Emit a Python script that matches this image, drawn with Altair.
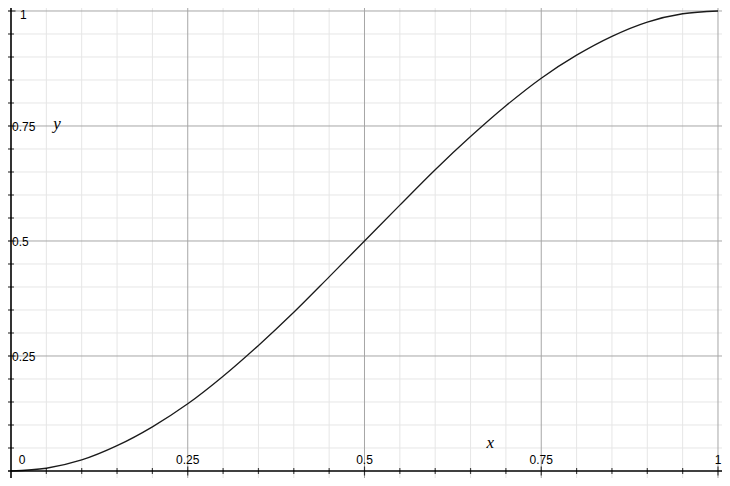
import altair as alt
import pandas as pd

# curve values
curve_x = [0.0, 0.05, 0.1, 0.15, 0.2, 0.25, 0.3, 0.35, 0.4, 0.45, 0.5,
           0.55, 0.6, 0.65, 0.7, 0.75, 0.8, 0.85, 0.9, 0.95, 1.0]
curve_y = [0.0, 0.006, 0.024, 0.055, 0.096, 0.146, 0.206, 0.273, 0.345, 0.422, 0.5,
           0.578, 0.655, 0.727, 0.794, 0.854, 0.904, 0.945, 0.976, 0.994, 1.0]

minor_steps = [0.05, 0.1, 0.15, 0.2, 0.3, 0.35, 0.4, 0.45, 0.55, 0.6,
               0.65, 0.7, 0.8, 0.85, 0.9, 0.95]
major_steps = [0.25, 0.5, 0.75, 1.0]
x_tick_labels = ["0.25", "0.5", "0.75", "1"]
y_tick_labels = ["0.25", "0.5", "0.75"]
axis_names = ["x", "y"]
axis_name_x = [0.678, 0.065]
axis_name_y = [0.060, 0.755]

W, H = 714, 470
X_DOMAIN = [-0.00424, 1.00566]
Y_DOMAIN = [-0.01522, 1.00652]

xs = alt.Scale(domain=X_DOMAIN, nice=False, zero=False)
ys = alt.Scale(domain=Y_DOMAIN, nice=False, zero=False)

curve_df = pd.DataFrame({"x": curve_x, "y": curve_y})
minor_df = pd.DataFrame({"v": minor_steps})
major_df = pd.DataFrame({"v": major_steps})
all_ticks_df = pd.DataFrame({"v": minor_steps, "z": [0.0] * len(minor_steps)})
major_ticks_df = pd.DataFrame({"v": major_steps, "z": [0.0] * len(major_steps)})
xlab_df = pd.DataFrame({"v": [float(s) for s in x_tick_labels], "t": x_tick_labels,
                        "z": [0.0] * len(x_tick_labels)})
ylab_df = pd.DataFrame({"v": [float(s) for s in y_tick_labels], "t": y_tick_labels,
                        "z": [0.0] * len(y_tick_labels)})
zero_df = pd.DataFrame({"v": [0.0], "z": [0.0], "t": ["0"]})
one_df = pd.DataFrame({"v": [1.0], "z": [0.0], "t": ["1"]})
names_df = pd.DataFrame({"x": axis_name_x, "y": axis_name_y, "t": axis_names})


def X(f):
    return alt.X(f, type="quantitative", scale=xs, axis=None)


def Y(f):
    return alt.Y(f, type="quantitative", scale=ys, axis=None)


minor_v = alt.Chart(minor_df).mark_rule(color="#e6e6e6", strokeWidth=1).encode(x=X("v"))
minor_h = alt.Chart(minor_df).mark_rule(color="#e6e6e6", strokeWidth=1).encode(y=Y("v"))
major_v = alt.Chart(major_df).mark_rule(color="#a6a6a6", strokeWidth=1).encode(x=X("v"))
major_h = alt.Chart(major_df).mark_rule(color="#a6a6a6", strokeWidth=1).encode(y=Y("v"))

axis_y = alt.Chart(zero_df).mark_rule(color="#000000", strokeWidth=1.6).encode(x=X("v"))
axis_x = alt.Chart(zero_df).mark_rule(color="#000000", strokeWidth=1.6).encode(y=Y("v"))

ticks_x = alt.Chart(all_ticks_df).mark_tick(orient="vertical", size=6, thickness=1.2,
                                            color="#000000").encode(x=X("v"), y=Y("z"))
ticks_y = alt.Chart(all_ticks_df).mark_tick(orient="horizontal", size=6, thickness=1.2,
                                            color="#000000").encode(x=X("z"), y=Y("v"))
mticks_x = alt.Chart(major_ticks_df).mark_tick(orient="vertical", size=9, thickness=1.2,
                                               color="#000000").encode(x=X("v"), y=Y("z"))
mticks_y = alt.Chart(major_ticks_df).mark_tick(orient="horizontal", size=9, thickness=1.2,
                                               color="#000000").encode(x=X("z"), y=Y("v"))

curve = alt.Chart(curve_df).mark_line(interpolate="monotone", color="#1a1a1a",
                                      strokeWidth=1.3).encode(x=X("x"), y=Y("y"))

FONT = "Liberation Sans"
xlabels = alt.Chart(xlab_df).mark_text(font=FONT, fontSize=12, color="#000000",
                                       align="center", baseline="middle", dy=-11).encode(
    x=X("v"), y=Y("z"), text="t:N")
zero_label = alt.Chart(zero_df).mark_text(font=FONT, fontSize=12, color="#000000",
                                          align="center", baseline="middle", dx=11, dy=-11).encode(
    x=X("z"), y=Y("v"), text="t:N")
ylabels = alt.Chart(ylab_df).mark_text(font=FONT, fontSize=12, color="#000000",
                                       align="left", baseline="middle", dx=1, dy=1).encode(
    x=X("z"), y=Y("v"), text="t:N")
one_label = alt.Chart(one_df).mark_text(font=FONT, fontSize=12, color="#000000",
                                        align="left", baseline="middle", dx=9, dy=4).encode(
    x=X("z"), y=Y("v"), text="t:N")
names = alt.Chart(names_df).mark_text(font="Liberation Serif", fontSize=17, fontStyle="italic",
                                      color="#000000", align="center", baseline="middle").encode(
    x=X("x"), y=Y("y"), text="t:N")

chart = alt.layer(
    minor_v, minor_h, major_v, major_h, curve, axis_y, axis_x,
    ticks_x, ticks_y, mticks_x, mticks_y,
    xlabels, zero_label, ylabels, one_label, names
).properties(
    width=W, height=H,
    autosize=alt.AutoSizeParams(type="none"),
    padding=0,
    background="#ffffff",
).configure_view(stroke=None)

chart.save("out.html", embed_options={"renderer": "svg", "actions": False})
